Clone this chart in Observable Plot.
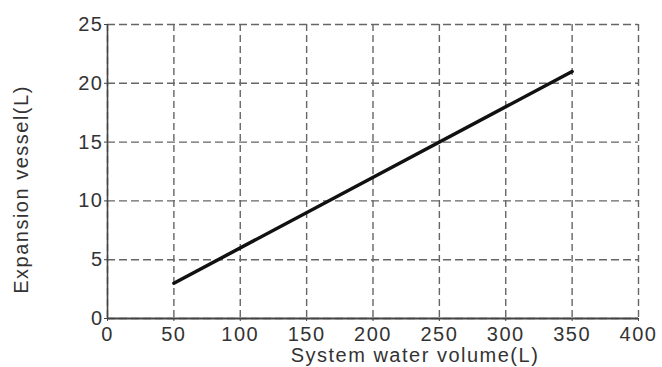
<!DOCTYPE html>
<html>
<head>
<meta charset="utf-8">
<script src="https://cdn.jsdelivr.net/npm/d3@7"></script>
<script src="https://cdn.jsdelivr.net/npm/@observablehq/plot@0.6"></script>
<style>
  html, body { margin: 0; padding: 0; background: #fff; }
  #chart svg text { letter-spacing: 1.5px; }
</style>
</head>
<body>
<div id="chart"></div>
<script>
// Data
const systemVolume = [50, 350];      // System water volume (L)
const vesselVolume = [3, 21];        // Expansion vessel (L)
const xTicks = [0, 50, 100, 150, 200, 250, 300, 350, 400];
const yTicks = [0, 5, 10, 15, 20, 25];
const xLabel = "System water volume(L)";
const yLabel = "Expansion vessel(L)";

const points = systemVolume.map((v, i) => ({x: v, y: vesselVolume[i]}));

const chart = Plot.plot({
  width: 662,
  height: 367,
  marginLeft: 107,
  marginRight: 24,
  marginTop: 24,
  marginBottom: 49,
  style: {fontFamily: "'Liberation Sans', Arial, sans-serif", fontSize: "20px", color: "#333", background: "#fff"},
  x: {domain: [0, 400], label: null},
  y: {domain: [0, 25], label: null},
  marks: [
    Plot.gridX(xTicks, {stroke: "#666", strokeOpacity: 1, strokeWidth: 1.4, strokeDasharray: "7,4"}),
    Plot.gridY(yTicks, {stroke: "#666", strokeOpacity: 1, strokeWidth: 1.4, strokeDasharray: "8,4"}),
    Plot.axisX(xTicks, {tickSize: 3, tickPadding: 5, stroke: "#444", fill: "#333", fontSize: 20}),
    Plot.axisY(yTicks, {tickSize: 3, tickPadding: 1, stroke: "#444", fill: "#333", fontSize: 20}),
    Plot.ruleX([0], {stroke: "#444", strokeWidth: 1.6}),
    Plot.ruleY([0], {stroke: "#444", strokeWidth: 1.8}),
    Plot.line(points, {x: "x", y: "y", stroke: "#111", strokeWidth: 3.5}),
    Plot.text([xLabel], {frameAnchor: "bottom", text: d => d, dx: 42, dy: 37, lineAnchor: "middle", textAnchor: "middle", fill: "#333", fontSize: 20}),
    Plot.text([yLabel], {frameAnchor: "left", text: d => d, rotate: -90, dx: -86, dy: 18, lineAnchor: "middle", textAnchor: "middle", fill: "#333", fontSize: 20})
  ]
});
document.getElementById("chart").appendChild(chart);
</script>
</body>
</html>
